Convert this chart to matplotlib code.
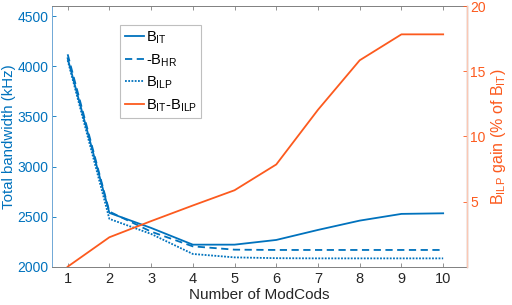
import matplotlib.pyplot as plt

plt.rcParams['font.family'] = ['Liberation Sans', 'DejaVu Sans']
plt.rcParams['mathtext.fontset'] = 'custom'
plt.rcParams['mathtext.rm'] = 'Liberation Sans'

modcods = [1, 2, 3, 4, 5, 6, 7, 8, 9, 10]
b_it = [4080, 2537, 2387, 2220, 2220, 2267, 2367, 2460, 2527, 2533]
b_hr = [4120, 2550, 2350, 2203, 2170, 2167, 2167, 2167, 2167, 2167]
b_ilp = [4060, 2477, 2327, 2127, 2093, 2085, 2083, 2083, 2083, 2083]
gain = [0.0, 2.26, 3.5, 4.7, 5.87, 7.85, 12.05, 15.85, 17.84, 17.84]

blue = '#0072BD'
orange = '#FC5A1E'

fig = plt.figure(figsize=(5.12, 3.05), dpi=100)
ax = fig.add_axes([0.102, 0.1256, 0.81, 0.854])
l1, = ax.plot(modcods, b_it, color=blue, lw=1.3, label=r'B$_\mathregular{IT}$')
l2, = ax.plot(modcods, b_hr, color=blue, lw=1.3, ls=(0, (4, 2.5)), label=r'-B$_\mathregular{HR}$')
l3, = ax.plot(modcods, b_ilp, color=blue, lw=1.3, ls=(0, (1, 0.8)), label=r'B$_\mathregular{ILP}$')
ax.set_xlim(0.63, 10.57)
ax.set_ylim(2000, 4600)
ax.set_xticks(modcods)
ax.set_yticks([2000, 2500, 3000, 3500, 4000, 4500])
ax.set_xlabel('Number of ModCods', fontsize=11, color='#262626', labelpad=2)
ax.set_ylabel('Total bandwidth (kHz)', fontsize=10.8, color=blue, labelpad=1)
ax.tick_params(axis='y', colors=blue, labelsize=10, direction='in', length=3, width=0.6, pad=2.5)
ax.tick_params(axis='x', colors='#808080', labelcolor='#262626', labelsize=10.5,
               direction='in', length=3, width=0.6, top=True)
for s in ['bottom', 'top']:
    ax.spines[s].set_color('#808080')
    ax.spines[s].set_linewidth(0.7)
ax.spines['left'].set_color('#6fa8d6')
ax.spines['left'].set_linewidth(0.7)

ax2 = ax.twinx()
l4, = ax2.plot(modcods, gain, color=orange, lw=1.3, label=r'B$_\mathregular{IT}$-B$_\mathregular{ILP}$')
ax2.set_ylim(0, 20)
ax2.set_yticks([5, 10, 15, 20])
ax2.set_ylabel(r'B$_\mathregular{ILP}$ gain (% of B$_\mathregular{IT}$)', fontsize=11.5, color=orange, labelpad=2)
ax2.tick_params(axis='y', colors=orange, labelsize=10, direction='in', length=3, width=0.6, pad=2.5)
ax2.spines['right'].set_color('#fbc8b4')
ax2.spines['right'].set_linewidth(1.0)
for s in ['left', 'top', 'bottom']:
    ax2.spines[s].set_visible(False)

leg = ax.legend(handles=[l1, l2, l3, l4], loc='upper left', bbox_to_anchor=(0.164, 0.928),
                fontsize=10.5, frameon=True, fancybox=False, handlelength=1.3,
                handletextpad=0.15, borderpad=0.3, labelspacing=0.4, borderaxespad=0)
leg.get_frame().set_edgecolor('#b0b0b0')
leg.get_frame().set_linewidth(0.8)

fig.savefig('out.png', dpi=100)
